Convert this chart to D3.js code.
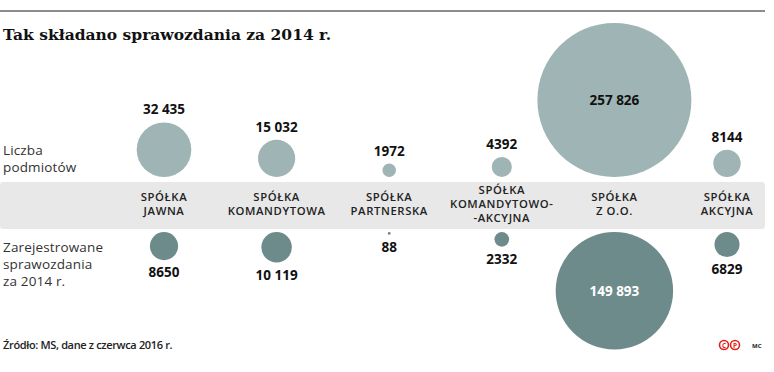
<!DOCTYPE html>
<html>
<head>
<meta charset="utf-8">
<script src="https://cdn.jsdelivr.net/npm/d3@7"></script>
<style>
  body { margin: 0; background: #fff; }
  text { font-family: "Open Sans", sans-serif; }
</style>
</head>
<body>
<div id="graphic"></div>
<script>
// Chart data
var categories = [
    ["SPÓŁKA", "JAWNA"],
    ["SPÓŁKA", "KOMANDYTOWA"],
    ["SPÓŁKA", "PARTNERSKA"],
    ["SPÓŁKA", "KOMANDYTOWO-", "-AKCYJNA"],
    ["SPÓŁKA", "Z O.O."],
    ["SPÓŁKA", "AKCYJNA"]
];
var podmioty = [32435, 15032, 1972, 4392, 257826, 8144];
var sprawozdania = [8650, 10119, 88, 2332, 149893, 6829];
var rowLabels = [["Liczba", "podmiotów"], ["Zarejestrowane", "sprawozdania", "za 2014 r."]];
var title = "Tak składano sprawozdania za 2014 r.";
var source = "Źródło: MS, dane z czerwca 2016 r.";

var svgWidth = 774;
var svgHeight = 372;

var svg = d3.select("#graphic")
    .append("svg")
    .attr("width", svgWidth)
    .attr("height", svgHeight);

// thousands separated by a space, e.g. 32 435 (four-digit numbers stay together)
function fmt(v) {
    if (v < 10000) return String(v);
    return d3.format(",")(v).replace(/,/g, " ");
}

var x = d3.scalePoint()
    .domain(d3.range(categories.length))
    .range([164, 727]);

var r = d3.scaleSqrt()
    .domain([0, d3.max(podmioty.concat(sprawozdania))])
    .range([0, 77]);

var topBase = 177;     // top row circles sit on this line
var bottomBase = 232;  // bottom row circles hang from this line

// top rule
svg.append("line")
    .attr("x1", 0).attr("x2", 765)
    .attr("y1", 11).attr("y2", 11)
    .attr("stroke", "#8c8c8c")
    .attr("stroke-width", 2);

// title
svg.append("text")
    .attr("x", 3).attr("y", 40)
    .style("font-family", "'DejaVu Serif', serif")
    .style("font-weight", "bold")
    .style("font-size", "15.5px")
    .attr("fill", "#111")
    .text(title);

// grey band with category names
svg.append("rect")
    .attr("x", 0).attr("y", 182)
    .attr("width", 765).attr("height", 47)
    .attr("rx", 3)
    .attr("fill", "#e8e8e8");

var catG = svg.selectAll(".cat")
    .data(categories)
    .enter()
    .append("g")
    .attr("class", "cat")
    .attr("transform", function(d, i) {
        return "translate(" + x(i) + "," + (211 - (d.length - 1) * 14 / 2) + ")";
    });

catG.selectAll("text")
    .data(function(d) { return d; })
    .enter()
    .append("text")
    .attr("x", 0)
    .attr("y", function(d, i) { return i * 14 - 3; })
    .attr("text-anchor", "middle")
    .attr("fill", "#222")
    .style("font-size", "11.3px")
    .style("font-weight", 600)
    .style("letter-spacing", "0.6px")
    .text(function(d) { return d; });

// row labels on the left
svg.selectAll(".rowlab")
    .data(rowLabels)
    .enter()
    .append("g")
    .attr("class", "rowlab")
    .attr("transform", function(d, i) { return "translate(3," + (i == 0 ? 155 : 252) + ")"; })
    .selectAll("text")
    .data(function(d) { return d; })
    .enter()
    .append("text")
    .attr("x", 0)
    .attr("y", function(d, i) { return i * 17; })
    .attr("fill", "#333")
    .style("font-size", "13.5px")
    .style("letter-spacing", "0.15px")
    .text(function(d) { return d; });

// top row circles: Liczba podmiotów
svg.selectAll(".topc")
    .data(podmioty)
    .enter()
    .append("circle")
    .attr("class", "topc")
    .attr("cx", function(d, i) { return x(i); })
    .attr("cy", function(d) { return topBase - r(d); })
    .attr("r", function(d) { return r(d); })
    .attr("fill", "#9fb4b4");

svg.selectAll(".topl")
    .data(podmioty)
    .enter()
    .append("text")
    .attr("class", "topl")
    .attr("x", function(d, i) { return x(i); })
    .attr("y", function(d) {
        return r(d) > 40 ? topBase - r(d) + 5 : topBase - 2 * r(d) - 8;
    })
    .attr("text-anchor", "middle")
    .attr("fill", "#111")
    .style("font-size", "13.5px")
    .style("font-weight", "bold")
    .text(function(d) { return fmt(d); });

// bottom row circles: Zarejestrowane sprawozdania
svg.selectAll(".botc")
    .data(sprawozdania)
    .enter()
    .append("circle")
    .attr("class", "botc")
    .attr("cx", function(d, i) { return x(i); })
    .attr("cy", function(d) { return bottomBase + r(d); })
    .attr("r", function(d) { return Math.max(r(d), 1.2); })
    .attr("fill", "#6e8b8b");

svg.selectAll(".botl")
    .data(sprawozdania)
    .enter()
    .append("text")
    .attr("class", "botl")
    .attr("x", function(d, i) { return x(i); })
    .attr("y", function(d) {
        return r(d) > 40 ? bottomBase + r(d) + 5 : bottomBase + 2 * r(d) + 17;
    })
    .attr("text-anchor", "middle")
    .attr("fill", function(d) { return r(d) > 40 ? "#fff" : "#111"; })
    .style("font-size", "13.5px")
    .style("font-weight", "bold")
    .text(function(d) { return fmt(d); });

// source
svg.append("text")
    .attr("x", 3).attr("y", 349)
    .attr("fill", "#222")
    .style("font-size", "11px")
    .style("font-weight", 600)
    .style("letter-spacing", "-0.35px")
    .text(source);

// logo
var logo = svg.append("g").attr("transform", "translate(724,345)");
["C", "P"].forEach(function(l, i) {
    logo.append("circle")
        .attr("cx", i * 11).attr("cy", 0).attr("r", 4.5)
        .attr("fill", "none").attr("stroke", "#e2231a").attr("stroke-width", 1.6);
    logo.append("text")
        .attr("x", i * 11).attr("y", 2.5)
        .attr("text-anchor", "middle")
        .attr("fill", "#e2231a")
        .style("font-size", "6.5px")
        .style("font-weight", "bold")
        .text(l);
});
svg.append("text")
    .attr("x", 752).attr("y", 348)
    .attr("fill", "#222")
    .style("font-size", "6px")
    .style("font-weight", "bold")
    .text("MC");
</script>
</body>
</html>
